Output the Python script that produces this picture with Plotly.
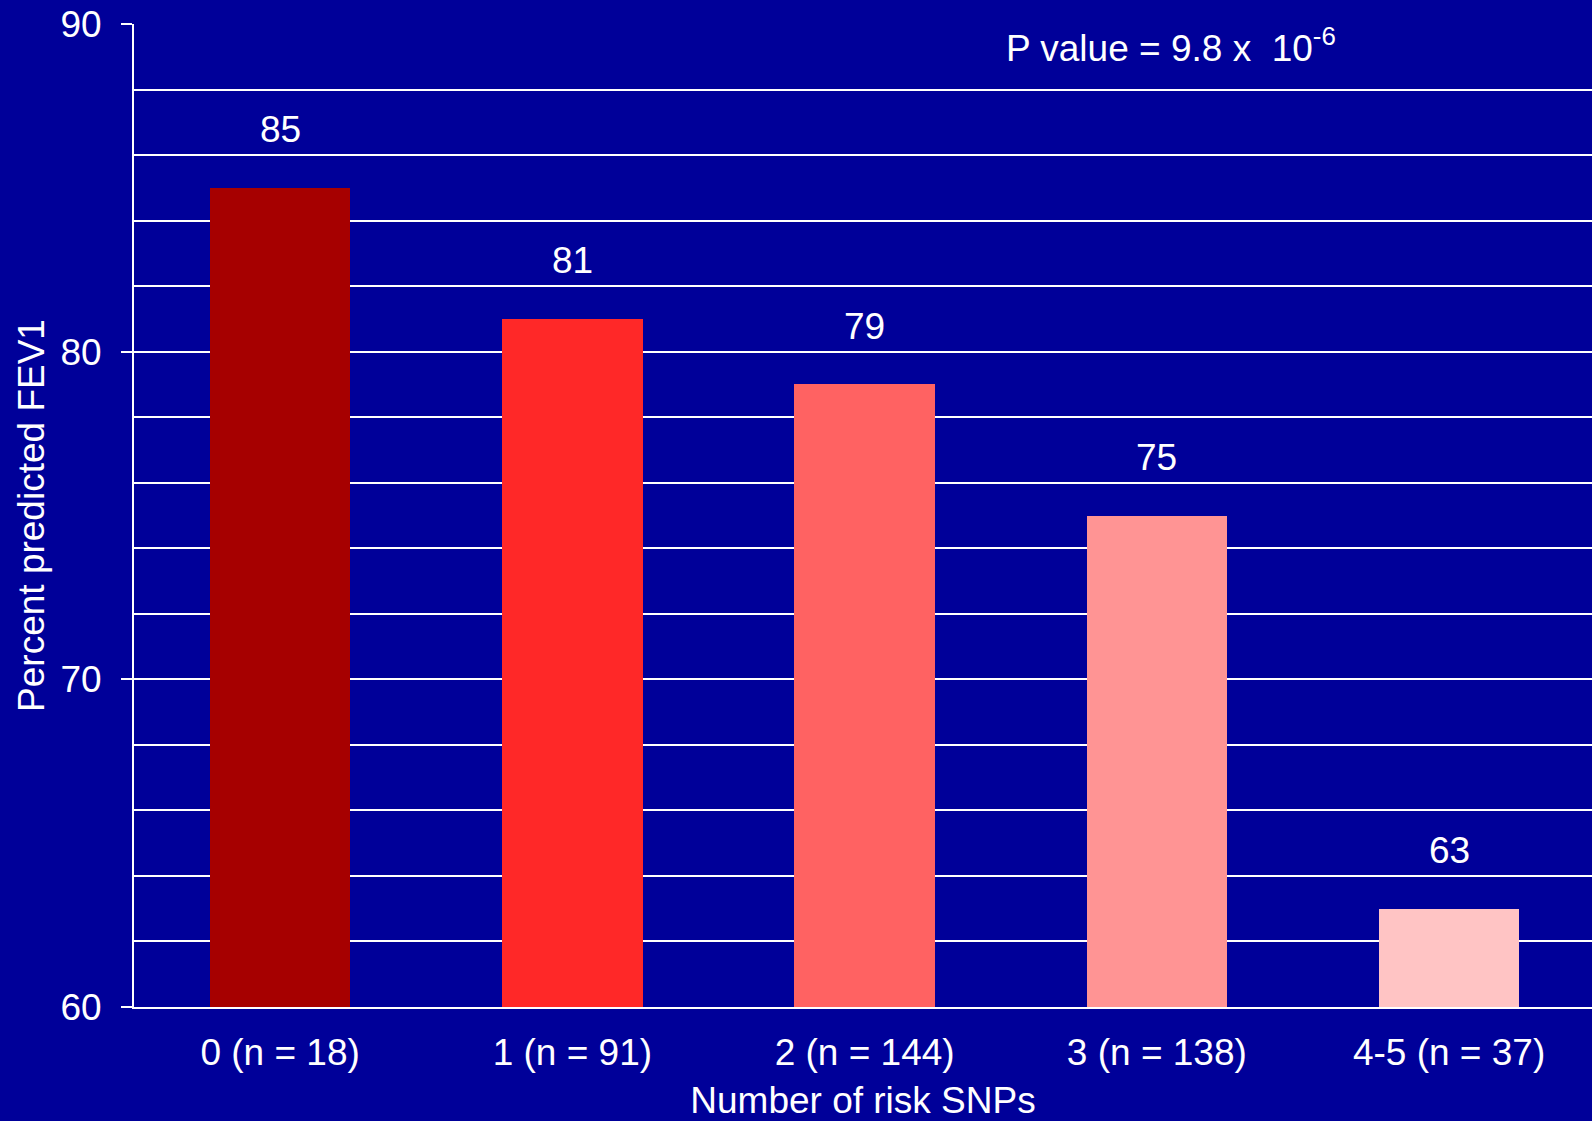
import plotly.graph_objects as go

# Data: mean percent predicted FEV1 by number of risk SNPs
categories = ["0 (n = 18)", "1 (n = 91)", "2 (n = 144)", "3 (n = 138)", "4-5 (n = 37)"]
fev1_values = [85, 81, 79, 75, 63]
bar_colors = ["#A60000", "#FF2828", "#FF6262", "#FF9494", "#FFC4C4"]
p_value_text = "P value = 9.8 x &nbsp;10<sup>-6</sup>"

BG = "#000099"
FONT = "Arial, Liberation Sans, sans-serif"
FS = 37

fig = go.Figure(
    go.Bar(
        x=list(range(len(categories))),
        y=fev1_values,
        marker=dict(color=bar_colors, line=dict(width=0)),
        width=0.48,
        hoverinfo="skip",
    )
)

# Value labels above each bar
for i, v in enumerate(fev1_values):
    fig.add_annotation(
        x=i, y=v, xref="x", yref="y",
        text=str(v), showarrow=False,
        yshift=58, yanchor="middle",
        font=dict(family=FONT, size=FS, color="white"),
    )

fig.add_annotation(
    x=0.597, xref="paper", y=89.35, yref="y",
    xanchor="left", yanchor="middle",
    text=p_value_text, showarrow=False,
    font=dict(family=FONT, size=FS, color="white"),
)

fig.update_layout(
    width=1592, height=1121,
    margin=dict(l=134, r=0, t=24, b=114, pad=0),
    paper_bgcolor=BG, plot_bgcolor=BG,
    font=dict(family=FONT, size=FS, color="white"),
    showlegend=False,
    bargap=0,
)

fig.update_xaxes(
    range=[-0.5, 4.489],
    tickmode="array",
    tickvals=list(range(len(categories))),
    ticktext=categories,
    ticks="",
    showgrid=False,
    zeroline=False,
    showline=True, linecolor="white", linewidth=2,
    tickfont=dict(family=FONT, size=FS, color="white"),
    ticklabelstandoff=12,
    title=dict(text="Number of risk SNPs", standoff=18,
               font=dict(family=FONT, size=FS, color="white")),
)

fig.update_yaxes(
    range=[60, 90],
    tickmode="linear", tick0=60, dtick=10,
    ticks="outside", ticklen=11, tickwidth=2, tickcolor="white",
    showgrid=True, gridcolor="white", gridwidth=2,
    minor=dict(dtick=2, showgrid=True, gridcolor="white", gridwidth=2, ticks=""),
    zeroline=False,
    showline=True, linecolor="white", linewidth=2,
    tickfont=dict(family=FONT, size=FS, color="white"),
    ticklabelstandoff=12,
    title=dict(text="Percent predicted FEV1", standoff=4,
               font=dict(family=FONT, size=FS, color="white")),
)

fig.write_html("out.html")
